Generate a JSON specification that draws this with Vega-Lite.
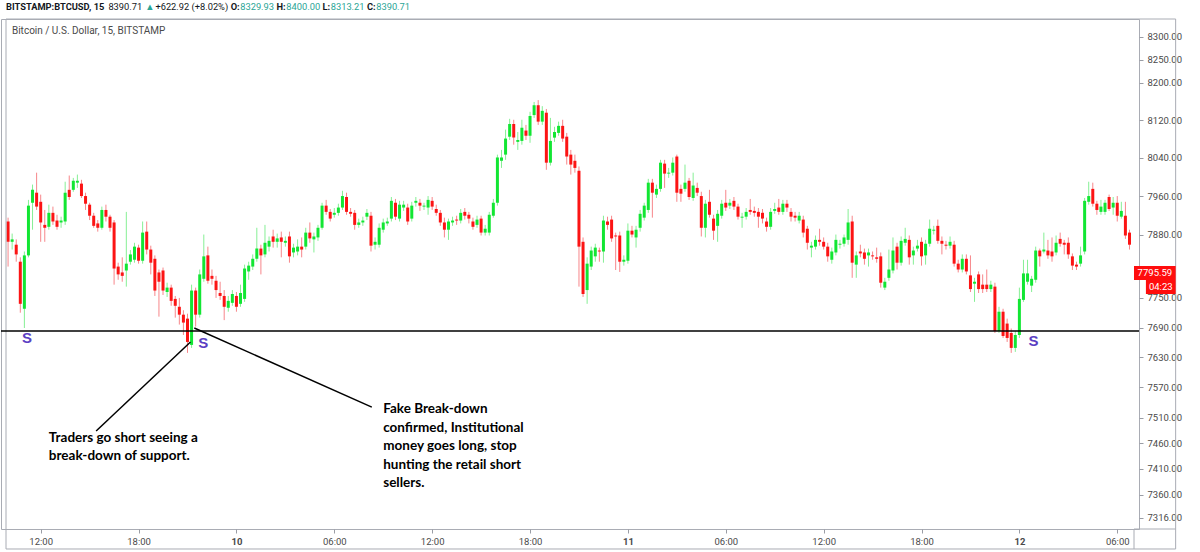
{
  "$schema": "https://vega.github.io/schema/vega-lite/v6.json",
  "width": 1138,
  "height": 510,
  "autosize": {"type": "none"},
  "padding": {"left": 1, "top": 19, "right": 61, "bottom": 23},
  "background": "#ffffff",
  "config": {"view": {"stroke": "#a9acb4", "strokeWidth": 1}, "font": "Roboto"},
  "datasets": {
    "one": [{}],
    "headBold": [
      {"t": 1560073944000, "txt": "BITSTAMP:BTCUSD, 15"},
      {"t": 1560123537572, "txt": "O:"},
      {"t": 1560133644423, "txt": "H:"},
      {"t": 1560143816902, "txt": "L:"},
      {"t": 1560153617485, "txt": "C:"}
    ],
    "headPlain": [
      {"t": 1560096542218, "txt": "8390.71"},
      {"t": 1560106911584, "txt": "+622.92 (+8.02%)"}
    ],
    "headTeal": [
      {"t": 1560104658325, "txt": "▲"},
      {"t": 1560125637697, "txt": "8329.93"},
      {"t": 1560135810176, "txt": "8400.00"},
      {"t": 1560145610759, "txt": "8313.21"},
      {"t": 1560155651981, "txt": "8390.71"}
    ],
    "candles": [
{"t":"2019-06-09T10:00Z","o":7907,"h":7915,"l":7814,"c":7865},
{"t":"2019-06-09T10:15Z","o":7865,"h":7882,"l":7849,"c":7870},
{"t":"2019-06-09T10:30Z","o":7859,"h":7870,"l":7824,"c":7839},
{"t":"2019-06-09T10:45Z","o":7824,"h":7833,"l":7720,"c":7738},
{"t":"2019-06-09T11:00Z","o":7728,"h":7845,"l":7689,"c":7837},
{"t":"2019-06-09T11:15Z","o":7837,"h":7952,"l":7833,"c":7940},
{"t":"2019-06-09T11:30Z","o":7946,"h":7984,"l":7890,"c":7973},
{"t":"2019-06-09T11:45Z","o":7967,"h":8009,"l":7931,"c":7938},
{"t":"2019-06-09T12:00Z","o":7948,"h":7963,"l":7865,"c":7905},
{"t":"2019-06-09T12:15Z","o":7900,"h":7931,"l":7865,"c":7894},
{"t":"2019-06-09T12:30Z","o":7896,"h":7942,"l":7890,"c":7925},
{"t":"2019-06-09T12:45Z","o":7925,"h":7938,"l":7900,"c":7907},
{"t":"2019-06-09T13:00Z","o":7909,"h":7921,"l":7890,"c":7896},
{"t":"2019-06-09T13:15Z","o":7905,"h":7917,"l":7894,"c":7909},
{"t":"2019-06-09T13:30Z","o":7907,"h":7990,"l":7900,"c":7967},
{"t":"2019-06-09T13:45Z","o":7973,"h":8003,"l":7952,"c":7958},
{"t":"2019-06-09T14:00Z","o":7973,"h":7998,"l":7969,"c":7992},
{"t":"2019-06-09T14:15Z","o":7988,"h":8005,"l":7977,"c":7992},
{"t":"2019-06-09T14:30Z","o":7986,"h":7994,"l":7956,"c":7960},
{"t":"2019-06-09T14:45Z","o":7960,"h":7967,"l":7931,"c":7944},
{"t":"2019-06-09T15:00Z","o":7942,"h":7946,"l":7910,"c":7919},
{"t":"2019-06-09T15:15Z","o":7919,"h":7925,"l":7894,"c":7898},
{"t":"2019-06-09T15:30Z","o":7903,"h":7910,"l":7886,"c":7894},
{"t":"2019-06-09T15:45Z","o":7894,"h":7938,"l":7890,"c":7931},
{"t":"2019-06-09T16:00Z","o":7931,"h":7942,"l":7907,"c":7917},
{"t":"2019-06-09T16:15Z","o":7917,"h":7921,"l":7886,"c":7894},
{"t":"2019-06-09T16:30Z","o":7905,"h":7910,"l":7777,"c":7810},
{"t":"2019-06-09T16:45Z","o":7814,"h":7822,"l":7787,"c":7798},
{"t":"2019-06-09T17:00Z","o":7802,"h":7833,"l":7783,"c":7795},
{"t":"2019-06-09T17:15Z","o":7806,"h":7927,"l":7773,"c":7820},
{"t":"2019-06-09T17:30Z","o":7824,"h":7848,"l":7818,"c":7839},
{"t":"2019-06-09T17:45Z","o":7828,"h":7863,"l":7822,"c":7855},
{"t":"2019-06-09T18:00Z","o":7853,"h":7859,"l":7820,"c":7826},
{"t":"2019-06-09T18:15Z","o":7826,"h":7907,"l":7820,"c":7884},
{"t":"2019-06-09T18:30Z","o":7886,"h":7907,"l":7839,"c":7849},
{"t":"2019-06-09T18:45Z","o":7849,"h":7857,"l":7798,"c":7822},
{"t":"2019-06-09T19:00Z","o":7830,"h":7837,"l":7754,"c":7765},
{"t":"2019-06-09T19:15Z","o":7802,"h":7808,"l":7712,"c":7783},
{"t":"2019-06-09T19:30Z","o":7806,"h":7812,"l":7756,"c":7765},
{"t":"2019-06-09T19:45Z","o":7762,"h":7781,"l":7752,"c":7771},
{"t":"2019-06-09T20:00Z","o":7771,"h":7777,"l":7734,"c":7744},
{"t":"2019-06-09T20:15Z","o":7748,"h":7754,"l":7710,"c":7734},
{"t":"2019-06-09T20:30Z","o":7732,"h":7750,"l":7696,"c":7716},
{"t":"2019-06-09T20:45Z","o":7716,"h":7725,"l":7675,"c":7700},
{"t":"2019-06-09T21:00Z","o":7708,"h":7718,"l":7639,"c":7661},
{"t":"2019-06-09T21:15Z","o":7655,"h":7777,"l":7649,"c":7765},
{"t":"2019-06-09T21:30Z","o":7765,"h":7771,"l":7692,"c":7716},
{"t":"2019-06-09T21:45Z","o":7716,"h":7808,"l":7710,"c":7798},
{"t":"2019-06-09T22:00Z","o":7789,"h":7880,"l":7783,"c":7835},
{"t":"2019-06-09T22:15Z","o":7837,"h":7855,"l":7779,"c":7785},
{"t":"2019-06-09T22:30Z","o":7795,"h":7808,"l":7777,"c":7789},
{"t":"2019-06-09T22:45Z","o":7785,"h":7795,"l":7750,"c":7766},
{"t":"2019-06-09T23:00Z","o":7760,"h":7783,"l":7746,"c":7754},
{"t":"2019-06-09T23:15Z","o":7754,"h":7766,"l":7705,"c":7732},
{"t":"2019-06-09T23:30Z","o":7730,"h":7754,"l":7722,"c":7744},
{"t":"2019-06-09T23:45Z","o":7740,"h":7766,"l":7734,"c":7758},
{"t":"2019-06-10T00:00Z","o":7754,"h":7762,"l":7722,"c":7732},
{"t":"2019-06-10T00:15Z","o":7738,"h":7777,"l":7732,"c":7760},
{"t":"2019-06-10T00:30Z","o":7748,"h":7818,"l":7742,"c":7810},
{"t":"2019-06-10T00:45Z","o":7804,"h":7824,"l":7787,"c":7816},
{"t":"2019-06-10T01:00Z","o":7814,"h":7839,"l":7807,"c":7830},
{"t":"2019-06-10T01:15Z","o":7830,"h":7894,"l":7824,"c":7851},
{"t":"2019-06-10T01:30Z","o":7851,"h":7859,"l":7798,"c":7837},
{"t":"2019-06-10T01:45Z","o":7839,"h":7900,"l":7833,"c":7863},
{"t":"2019-06-10T02:00Z","o":7855,"h":7876,"l":7845,"c":7867},
{"t":"2019-06-10T02:15Z","o":7876,"h":7890,"l":7853,"c":7865},
{"t":"2019-06-10T02:30Z","o":7865,"h":7882,"l":7853,"c":7872},
{"t":"2019-06-10T02:45Z","o":7874,"h":7886,"l":7833,"c":7865},
{"t":"2019-06-10T03:00Z","o":7863,"h":7876,"l":7855,"c":7867},
{"t":"2019-06-10T03:15Z","o":7876,"h":7886,"l":7822,"c":7835},
{"t":"2019-06-10T03:30Z","o":7843,"h":7861,"l":7833,"c":7853},
{"t":"2019-06-10T03:45Z","o":7845,"h":7870,"l":7837,"c":7855},
{"t":"2019-06-10T04:00Z","o":7855,"h":7874,"l":7833,"c":7849},
{"t":"2019-06-10T04:15Z","o":7855,"h":7894,"l":7849,"c":7884},
{"t":"2019-06-10T04:30Z","o":7884,"h":7905,"l":7863,"c":7872},
{"t":"2019-06-10T04:45Z","o":7870,"h":7884,"l":7843,"c":7876},
{"t":"2019-06-10T05:00Z","o":7874,"h":7900,"l":7867,"c":7894},
{"t":"2019-06-10T05:15Z","o":7894,"h":7946,"l":7890,"c":7940},
{"t":"2019-06-10T05:30Z","o":7940,"h":7952,"l":7921,"c":7927},
{"t":"2019-06-10T05:45Z","o":7927,"h":7933,"l":7907,"c":7913},
{"t":"2019-06-10T06:00Z","o":7921,"h":7935,"l":7915,"c":7925},
{"t":"2019-06-10T06:15Z","o":7925,"h":7944,"l":7919,"c":7936},
{"t":"2019-06-10T06:30Z","o":7936,"h":7971,"l":7931,"c":7960},
{"t":"2019-06-10T06:45Z","o":7958,"h":7967,"l":7921,"c":7927},
{"t":"2019-06-10T07:00Z","o":7927,"h":7935,"l":7917,"c":7923},
{"t":"2019-06-10T07:15Z","o":7925,"h":7931,"l":7890,"c":7900},
{"t":"2019-06-10T07:30Z","o":7900,"h":7913,"l":7894,"c":7905},
{"t":"2019-06-10T07:45Z","o":7905,"h":7917,"l":7898,"c":7909},
{"t":"2019-06-10T08:00Z","o":7917,"h":7933,"l":7910,"c":7925},
{"t":"2019-06-10T08:15Z","o":7919,"h":7927,"l":7845,"c":7857},
{"t":"2019-06-10T08:30Z","o":7859,"h":7874,"l":7849,"c":7865},
{"t":"2019-06-10T08:45Z","o":7859,"h":7903,"l":7853,"c":7894},
{"t":"2019-06-10T09:00Z","o":7890,"h":7913,"l":7884,"c":7905},
{"t":"2019-06-10T09:15Z","o":7903,"h":7915,"l":7898,"c":7907},
{"t":"2019-06-10T09:30Z","o":7913,"h":7958,"l":7907,"c":7950},
{"t":"2019-06-10T09:45Z","o":7946,"h":7954,"l":7910,"c":7917},
{"t":"2019-06-10T10:00Z","o":7913,"h":7950,"l":7907,"c":7942},
{"t":"2019-06-10T10:15Z","o":7936,"h":7950,"l":7929,"c":7942},
{"t":"2019-06-10T10:30Z","o":7936,"h":7944,"l":7900,"c":7907},
{"t":"2019-06-10T10:45Z","o":7913,"h":7948,"l":7907,"c":7940},
{"t":"2019-06-10T11:00Z","o":7946,"h":7958,"l":7938,"c":7950},
{"t":"2019-06-10T11:15Z","o":7946,"h":7954,"l":7929,"c":7940},
{"t":"2019-06-10T11:30Z","o":7938,"h":7946,"l":7931,"c":7940},
{"t":"2019-06-10T11:45Z","o":7936,"h":7960,"l":7921,"c":7952},
{"t":"2019-06-10T12:00Z","o":7950,"h":7958,"l":7931,"c":7938},
{"t":"2019-06-10T12:15Z","o":7933,"h":7942,"l":7919,"c":7925},
{"t":"2019-06-10T12:30Z","o":7925,"h":7931,"l":7898,"c":7905},
{"t":"2019-06-10T12:45Z","o":7905,"h":7915,"l":7874,"c":7890},
{"t":"2019-06-10T13:00Z","o":7890,"h":7913,"l":7869,"c":7907},
{"t":"2019-06-10T13:15Z","o":7905,"h":7917,"l":7898,"c":7909},
{"t":"2019-06-10T13:30Z","o":7911,"h":7919,"l":7900,"c":7909},
{"t":"2019-06-10T13:45Z","o":7909,"h":7933,"l":7903,"c":7925},
{"t":"2019-06-10T14:00Z","o":7927,"h":7935,"l":7911,"c":7919},
{"t":"2019-06-10T14:15Z","o":7921,"h":7927,"l":7903,"c":7913},
{"t":"2019-06-10T14:30Z","o":7907,"h":7915,"l":7890,"c":7896},
{"t":"2019-06-10T14:45Z","o":7900,"h":7919,"l":7894,"c":7911},
{"t":"2019-06-10T15:00Z","o":7913,"h":7919,"l":7878,"c":7884},
{"t":"2019-06-10T15:15Z","o":7884,"h":7900,"l":7878,"c":7892},
{"t":"2019-06-10T15:30Z","o":7884,"h":7927,"l":7878,"c":7921},
{"t":"2019-06-10T15:45Z","o":7919,"h":7954,"l":7915,"c":7946},
{"t":"2019-06-10T16:00Z","o":7946,"h":8047,"l":7940,"c":8041},
{"t":"2019-06-10T16:15Z","o":8034,"h":8057,"l":8019,"c":8041},
{"t":"2019-06-10T16:30Z","o":8047,"h":8100,"l":8036,"c":8081},
{"t":"2019-06-10T16:45Z","o":8085,"h":8123,"l":8078,"c":8112},
{"t":"2019-06-10T17:00Z","o":8112,"h":8121,"l":8068,"c":8083},
{"t":"2019-06-10T17:15Z","o":8074,"h":8095,"l":8057,"c":8078},
{"t":"2019-06-10T17:30Z","o":8076,"h":8121,"l":8068,"c":8104},
{"t":"2019-06-10T17:45Z","o":8098,"h":8110,"l":8078,"c":8087},
{"t":"2019-06-10T18:00Z","o":8087,"h":8138,"l":8072,"c":8129},
{"t":"2019-06-10T18:15Z","o":8131,"h":8159,"l":8125,"c":8152},
{"t":"2019-06-10T18:30Z","o":8152,"h":8163,"l":8110,"c":8117},
{"t":"2019-06-10T18:45Z","o":8117,"h":8150,"l":8110,"c":8140},
{"t":"2019-06-10T19:00Z","o":8136,"h":8144,"l":8015,"c":8030},
{"t":"2019-06-10T19:15Z","o":8030,"h":8125,"l":8024,"c":8076},
{"t":"2019-06-10T19:30Z","o":8083,"h":8106,"l":8074,"c":8095},
{"t":"2019-06-10T19:45Z","o":8093,"h":8117,"l":8087,"c":8108},
{"t":"2019-06-10T20:00Z","o":8108,"h":8121,"l":8074,"c":8081},
{"t":"2019-06-10T20:15Z","o":8085,"h":8093,"l":8026,"c":8043},
{"t":"2019-06-10T20:30Z","o":8047,"h":8057,"l":8005,"c":8026},
{"t":"2019-06-10T20:45Z","o":8034,"h":8047,"l":8009,"c":8019},
{"t":"2019-06-10T21:00Z","o":8013,"h":8022,"l":7773,"c":7855},
{"t":"2019-06-10T21:15Z","o":7865,"h":7874,"l":7752,"c":7758},
{"t":"2019-06-10T21:30Z","o":7766,"h":7833,"l":7738,"c":7820},
{"t":"2019-06-10T21:45Z","o":7814,"h":7855,"l":7807,"c":7847},
{"t":"2019-06-10T22:00Z","o":7835,"h":7861,"l":7824,"c":7853},
{"t":"2019-06-10T22:15Z","o":7847,"h":7853,"l":7824,"c":7845},
{"t":"2019-06-10T22:30Z","o":7845,"h":7919,"l":7822,"c":7909},
{"t":"2019-06-10T22:45Z","o":7907,"h":7917,"l":7890,"c":7900},
{"t":"2019-06-10T23:00Z","o":7911,"h":7919,"l":7865,"c":7872},
{"t":"2019-06-10T23:15Z","o":7878,"h":7884,"l":7807,"c":7876},
{"t":"2019-06-10T23:30Z","o":7878,"h":7886,"l":7803,"c":7824},
{"t":"2019-06-10T23:45Z","o":7824,"h":7837,"l":7816,"c":7828},
{"t":"2019-06-11T00:00Z","o":7826,"h":7903,"l":7820,"c":7888},
{"t":"2019-06-11T00:15Z","o":7888,"h":7898,"l":7874,"c":7880},
{"t":"2019-06-11T00:30Z","o":7874,"h":7898,"l":7853,"c":7890},
{"t":"2019-06-11T00:45Z","o":7894,"h":7931,"l":7886,"c":7923},
{"t":"2019-06-11T01:00Z","o":7915,"h":7946,"l":7909,"c":7940},
{"t":"2019-06-11T01:15Z","o":7931,"h":7996,"l":7925,"c":7988},
{"t":"2019-06-11T01:30Z","o":7988,"h":7996,"l":7915,"c":7967},
{"t":"2019-06-11T01:45Z","o":7963,"h":7984,"l":7956,"c":7975},
{"t":"2019-06-11T02:00Z","o":7975,"h":8036,"l":7969,"c":8030},
{"t":"2019-06-11T02:15Z","o":8028,"h":8036,"l":7977,"c":8007},
{"t":"2019-06-11T02:30Z","o":8007,"h":8019,"l":7998,"c":8009},
{"t":"2019-06-11T02:45Z","o":8009,"h":8041,"l":8003,"c":8030},
{"t":"2019-06-11T03:00Z","o":8043,"h":8047,"l":7948,"c":7967},
{"t":"2019-06-11T03:15Z","o":7975,"h":7984,"l":7948,"c":7965},
{"t":"2019-06-11T03:30Z","o":7975,"h":8026,"l":7969,"c":7988},
{"t":"2019-06-11T03:45Z","o":7992,"h":7998,"l":7952,"c":7958},
{"t":"2019-06-11T04:00Z","o":7956,"h":8009,"l":7950,"c":7982},
{"t":"2019-06-11T04:15Z","o":7977,"h":7988,"l":7960,"c":7967},
{"t":"2019-06-11T04:30Z","o":7960,"h":7969,"l":7876,"c":7894},
{"t":"2019-06-11T04:45Z","o":7894,"h":7952,"l":7874,"c":7944},
{"t":"2019-06-11T05:00Z","o":7948,"h":7973,"l":7915,"c":7921},
{"t":"2019-06-11T05:15Z","o":7913,"h":7921,"l":7869,"c":7888},
{"t":"2019-06-11T05:30Z","o":7898,"h":7931,"l":7865,"c":7923},
{"t":"2019-06-11T05:45Z","o":7919,"h":7952,"l":7913,"c":7944},
{"t":"2019-06-11T06:00Z","o":7946,"h":7973,"l":7929,"c":7936},
{"t":"2019-06-11T06:15Z","o":7940,"h":7954,"l":7933,"c":7946},
{"t":"2019-06-11T06:30Z","o":7950,"h":7958,"l":7931,"c":7938},
{"t":"2019-06-11T06:45Z","o":7938,"h":7944,"l":7911,"c":7917},
{"t":"2019-06-11T07:00Z","o":7915,"h":7925,"l":7894,"c":7917},
{"t":"2019-06-11T07:15Z","o":7917,"h":7935,"l":7911,"c":7927},
{"t":"2019-06-11T07:30Z","o":7931,"h":7954,"l":7921,"c":7927},
{"t":"2019-06-11T07:45Z","o":7929,"h":7938,"l":7917,"c":7925},
{"t":"2019-06-11T08:00Z","o":7927,"h":7935,"l":7894,"c":7917},
{"t":"2019-06-11T08:15Z","o":7925,"h":7933,"l":7903,"c":7913},
{"t":"2019-06-11T08:30Z","o":7907,"h":7915,"l":7886,"c":7896},
{"t":"2019-06-11T08:45Z","o":7896,"h":7935,"l":7890,"c":7927},
{"t":"2019-06-11T09:00Z","o":7929,"h":7946,"l":7923,"c":7933},
{"t":"2019-06-11T09:15Z","o":7936,"h":7954,"l":7921,"c":7927},
{"t":"2019-06-11T09:30Z","o":7927,"h":7952,"l":7921,"c":7944},
{"t":"2019-06-11T09:45Z","o":7944,"h":7952,"l":7927,"c":7936},
{"t":"2019-06-11T10:00Z","o":7927,"h":7935,"l":7907,"c":7917},
{"t":"2019-06-11T10:15Z","o":7919,"h":7927,"l":7907,"c":7915},
{"t":"2019-06-11T10:30Z","o":7909,"h":7927,"l":7903,"c":7919},
{"t":"2019-06-11T10:45Z","o":7911,"h":7919,"l":7874,"c":7884},
{"t":"2019-06-11T11:00Z","o":7892,"h":7898,"l":7849,"c":7863},
{"t":"2019-06-11T11:15Z","o":7853,"h":7865,"l":7833,"c":7857},
{"t":"2019-06-11T11:30Z","o":7855,"h":7878,"l":7849,"c":7869},
{"t":"2019-06-11T11:45Z","o":7869,"h":7892,"l":7857,"c":7865},
{"t":"2019-06-11T12:00Z","o":7865,"h":7874,"l":7849,"c":7855},
{"t":"2019-06-11T12:15Z","o":7855,"h":7863,"l":7824,"c":7835},
{"t":"2019-06-11T12:30Z","o":7828,"h":7853,"l":7820,"c":7845},
{"t":"2019-06-11T12:45Z","o":7843,"h":7880,"l":7837,"c":7869},
{"t":"2019-06-11T13:00Z","o":7859,"h":7869,"l":7851,"c":7861},
{"t":"2019-06-11T13:15Z","o":7861,"h":7880,"l":7855,"c":7874},
{"t":"2019-06-11T13:30Z","o":7869,"h":7933,"l":7859,"c":7905},
{"t":"2019-06-11T13:45Z","o":7907,"h":7919,"l":7791,"c":7822},
{"t":"2019-06-11T14:00Z","o":7818,"h":7845,"l":7791,"c":7837},
{"t":"2019-06-11T14:15Z","o":7845,"h":7859,"l":7833,"c":7841},
{"t":"2019-06-11T14:30Z","o":7843,"h":7851,"l":7818,"c":7830},
{"t":"2019-06-11T14:45Z","o":7837,"h":7851,"l":7814,"c":7843},
{"t":"2019-06-11T15:00Z","o":7837,"h":7845,"l":7828,"c":7835},
{"t":"2019-06-11T15:15Z","o":7833,"h":7853,"l":7822,"c":7830},
{"t":"2019-06-11T15:30Z","o":7835,"h":7843,"l":7771,"c":7781},
{"t":"2019-06-11T15:45Z","o":7771,"h":7791,"l":7766,"c":7783},
{"t":"2019-06-11T16:00Z","o":7791,"h":7849,"l":7785,"c":7808},
{"t":"2019-06-11T16:15Z","o":7806,"h":7874,"l":7800,"c":7847},
{"t":"2019-06-11T16:30Z","o":7855,"h":7863,"l":7808,"c":7822},
{"t":"2019-06-11T16:45Z","o":7822,"h":7876,"l":7816,"c":7867},
{"t":"2019-06-11T17:00Z","o":7863,"h":7894,"l":7857,"c":7871},
{"t":"2019-06-11T17:15Z","o":7869,"h":7878,"l":7818,"c":7833},
{"t":"2019-06-11T17:30Z","o":7837,"h":7855,"l":7818,"c":7847},
{"t":"2019-06-11T17:45Z","o":7851,"h":7869,"l":7845,"c":7857},
{"t":"2019-06-11T18:00Z","o":7865,"h":7874,"l":7816,"c":7835},
{"t":"2019-06-11T18:15Z","o":7837,"h":7869,"l":7818,"c":7861},
{"t":"2019-06-11T18:30Z","o":7861,"h":7911,"l":7855,"c":7892},
{"t":"2019-06-11T18:45Z","o":7888,"h":7898,"l":7880,"c":7890},
{"t":"2019-06-11T19:00Z","o":7898,"h":7911,"l":7861,"c":7867},
{"t":"2019-06-11T19:15Z","o":7867,"h":7876,"l":7839,"c":7861},
{"t":"2019-06-11T19:30Z","o":7859,"h":7867,"l":7849,"c":7857},
{"t":"2019-06-11T19:45Z","o":7857,"h":7876,"l":7851,"c":7865},
{"t":"2019-06-11T20:00Z","o":7859,"h":7867,"l":7814,"c":7820},
{"t":"2019-06-11T20:15Z","o":7820,"h":7828,"l":7802,"c":7808},
{"t":"2019-06-11T20:30Z","o":7808,"h":7839,"l":7802,"c":7830},
{"t":"2019-06-11T20:45Z","o":7830,"h":7839,"l":7798,"c":7804},
{"t":"2019-06-11T21:00Z","o":7796,"h":7837,"l":7762,"c":7768},
{"t":"2019-06-11T21:15Z","o":7779,"h":7791,"l":7742,"c":7783},
{"t":"2019-06-11T21:30Z","o":7798,"h":7804,"l":7760,"c":7768},
{"t":"2019-06-11T21:45Z","o":7777,"h":7798,"l":7760,"c":7768},
{"t":"2019-06-11T22:00Z","o":7777,"h":7808,"l":7762,"c":7768},
{"t":"2019-06-11T22:15Z","o":7768,"h":7785,"l":7762,"c":7777},
{"t":"2019-06-11T22:30Z","o":7773,"h":7781,"l":7679,"c":7683},
{"t":"2019-06-11T22:45Z","o":7683,"h":7732,"l":7679,"c":7722},
{"t":"2019-06-11T23:00Z","o":7722,"h":7728,"l":7669,"c":7673},
{"t":"2019-06-11T23:15Z","o":7698,"h":7708,"l":7661,"c":7669},
{"t":"2019-06-11T23:30Z","o":7679,"h":7688,"l":7639,"c":7649},
{"t":"2019-06-11T23:45Z","o":7649,"h":7683,"l":7641,"c":7675},
{"t":"2019-06-12T00:00Z","o":7675,"h":7771,"l":7669,"c":7748},
{"t":"2019-06-12T00:15Z","o":7746,"h":7828,"l":7742,"c":7800},
{"t":"2019-06-12T00:30Z","o":7783,"h":7828,"l":7777,"c":7800},
{"t":"2019-06-12T00:45Z","o":7775,"h":7795,"l":7762,"c":7789},
{"t":"2019-06-12T01:00Z","o":7787,"h":7855,"l":7781,"c":7847},
{"t":"2019-06-12T01:15Z","o":7847,"h":7851,"l":7814,"c":7835},
{"t":"2019-06-12T01:30Z","o":7845,"h":7884,"l":7841,"c":7849},
{"t":"2019-06-12T01:45Z","o":7847,"h":7869,"l":7830,"c":7837},
{"t":"2019-06-12T02:00Z","o":7845,"h":7874,"l":7824,"c":7835},
{"t":"2019-06-12T02:15Z","o":7843,"h":7878,"l":7837,"c":7863},
{"t":"2019-06-12T02:30Z","o":7871,"h":7884,"l":7855,"c":7861},
{"t":"2019-06-12T02:45Z","o":7863,"h":7869,"l":7839,"c":7859},
{"t":"2019-06-12T03:00Z","o":7863,"h":7874,"l":7830,"c":7839},
{"t":"2019-06-12T03:15Z","o":7835,"h":7841,"l":7807,"c":7816},
{"t":"2019-06-12T03:30Z","o":7818,"h":7824,"l":7807,"c":7814},
{"t":"2019-06-12T03:45Z","o":7820,"h":7855,"l":7814,"c":7837},
{"t":"2019-06-12T04:00Z","o":7845,"h":7956,"l":7839,"c":7950},
{"t":"2019-06-12T04:15Z","o":7948,"h":7990,"l":7942,"c":7960},
{"t":"2019-06-12T04:30Z","o":7975,"h":7988,"l":7938,"c":7944},
{"t":"2019-06-12T04:45Z","o":7944,"h":7950,"l":7921,"c":7931},
{"t":"2019-06-12T05:00Z","o":7927,"h":7952,"l":7921,"c":7938},
{"t":"2019-06-12T05:15Z","o":7927,"h":7952,"l":7921,"c":7946},
{"t":"2019-06-12T05:30Z","o":7958,"h":7963,"l":7929,"c":7933},
{"t":"2019-06-12T05:45Z","o":7936,"h":7958,"l":7921,"c":7946},
{"t":"2019-06-12T06:00Z","o":7946,"h":7960,"l":7907,"c":7919},
{"t":"2019-06-12T06:15Z","o":7917,"h":7948,"l":7913,"c":7929},
{"t":"2019-06-12T06:30Z","o":7919,"h":7948,"l":7871,"c":7878},
{"t":"2019-06-12T06:45Z","o":7884,"h":7890,"l":7849,"c":7859}
    ]
  },
  "layer": [
    {
      "data": {"name": "candles"},
      "mark": {"type": "rule", "strokeWidth": 1},
      "encoding": {
        "x": {
          "field": "t", "type": "temporal",
          "scale": {"type": "utc", "domain": [1560073944000, 1560322896000], "nice": false},
          "axis": {
            "title": null, "orient": "bottom", "domain": false, "grid": false,
            "values": [1560081600000, 1560103200000, 1560124800000, 1560146400000, 1560168000000, 1560189600000, 1560211200000, 1560232800000, 1560254400000, 1560276000000, 1560297600000, 1560319200000],
            "labelExpr": "utchours(datum.value) == 0 ? utcFormat(datum.value, '%d') : utcFormat(datum.value, '%H:%M')",
            "labelFontWeight": {"condition": {"test": "utchours(datum.value) == 0", "value": "bold"}, "value": "normal"},
            "labelFont": "Roboto", "labelFontSize": 9.5, "labelColor": "#4a4a4a",
            "tickSize": 4, "tickColor": "#9a9da5", "labelPadding": 3, "labelFlush": false, "labelOverlap": false
          }
        },
        "y": {
          "field": "l", "type": "quantitative",
          "scale": {"type": "log", "domain": [7293.96, 8338.6], "nice": false, "zero": false},
          "axis": {
            "title": null, "orient": "right", "domain": false, "grid": false,
            "values": [7316, 7360, 7410, 7460, 7510, 7570, 7630, 7690, 7750, 7880, 7960, 8040, 8120, 8200, 8250, 8300],
            "format": ".2f", "labelFont": "Roboto", "labelFontSize": 9.5, "labelColor": "#4a4a4a",
            "tickSize": 4, "tickColor": "#9a9da5", "labelPadding": 4
          }
        },
        "y2": {"field": "h"},
        "color": {"condition": {"test": "datum.c >= datum.o", "value": "#86ef95"}, "value": "#f7868a"}
      }
    },
    {
      "data": {"name": "candles"},
      "mark": {"type": "bar", "size": 3},
      "encoding": {
        "x": {"field": "t", "type": "temporal"},
        "y": {"field": "o", "type": "quantitative"},
        "y2": {"field": "c"},
        "color": {"condition": {"test": "datum.c >= datum.o", "value": "#12e633"}, "value": "#fc1414"}
      }
    },
    {
      "data": {"name": "headBold"},
      "mark": {"type": "text", "align": "left", "baseline": "middle", "font": "Roboto", "fontWeight": "bold", "fontSize": 9.3, "color": "#131722"},
      "encoding": {
        "x": {"field": "t", "type": "temporal"},
        "y": {"datum": 8365, "type": "quantitative"},
        "text": {"field": "txt"}
      }
    },
    {
      "data": {"name": "headPlain"},
      "mark": {"type": "text", "align": "left", "baseline": "middle", "font": "Roboto", "fontSize": 9.3, "color": "#131722"},
      "encoding": {
        "x": {"field": "t", "type": "temporal"},
        "y": {"datum": 8365, "type": "quantitative"},
        "text": {"field": "txt"}
      }
    },
    {
      "data": {"name": "headTeal"},
      "mark": {"type": "text", "align": "left", "baseline": "middle", "font": "Roboto", "fontSize": 9.3, "color": "#2aa596"},
      "encoding": {
        "x": {"field": "t", "type": "temporal"},
        "y": {"datum": 8365, "type": "quantitative"},
        "text": {"field": "txt"}
      }
    },
    {
      "data": {"name": "one"},
      "mark": {"type": "rect", "fill": "transparent", "stroke": "#a9acb4", "strokeWidth": 1},
      "encoding": {
        "x": {"datum": 1560073944000, "type": "temporal"},
        "x2": {"datum": 1560332088000},
        "y": {"datum": 7255.8, "type": "quantitative"},
        "y2": {"datum": 8338.6}
      }
    },
    {
      "data": {"name": "one"},
      "mark": {"type": "rule", "stroke": "#a9acb4", "strokeWidth": 1},
      "encoding": {
        "x": {"datum": 1560322896000, "type": "temporal"},
        "y": {"datum": 7293.96, "type": "quantitative"},
        "y2": {"datum": 7255.8}
      }
    },
    {
      "data": {"name": "one"},
      "mark": {"type": "rule", "stroke": "#a9acb4", "strokeWidth": 1},
      "encoding": {
        "x": {"datum": 1560322896000, "type": "temporal"},
        "x2": {"datum": 1560332088000},
        "y": {"datum": 7293.96, "type": "quantitative"}
      }
    },
    {
      "data": {"name": "one"},
      "mark": {"type": "rule", "stroke": "#000000", "strokeWidth": 1.5},
      "encoding": {"y": {"datum": 7683, "type": "quantitative"}}
    },
    {
      "data": {"name": "one"},
      "mark": {"type": "rule", "stroke": "#000000", "strokeWidth": 1.5},
      "encoding": {
        "x": {"datum": 1560093840000, "type": "temporal"},
        "x2": {"datum": 1560114660000},
        "y": {"datum": 7484, "type": "quantitative"},
        "y2": {"datum": 7661}
      }
    },
    {
      "data": {"name": "one"},
      "mark": {"type": "rule", "stroke": "#000000", "strokeWidth": 1.5},
      "encoding": {
        "x": {"datum": 1560115500000, "type": "temporal"},
        "x2": {"datum": 1560154680000},
        "y": {"datum": 7689, "type": "quantitative"},
        "y2": {"datum": 7531}
      }
    },
    {
      "data": {"name": "one"},
      "mark": {"type": "text", "text": "Bitcoin / U.S. Dollar, 15, BITSTAMP", "align": "left", "baseline": "middle", "font": "Roboto", "fontSize": 10, "color": "#4a4a4a"},
      "encoding": {
        "x": {"datum": 1560075260000, "type": "temporal"},
        "y": {"datum": 8312, "type": "quantitative"}
      }
    },
    {
      "data": {"name": "one"},
      "mark": {"type": "text", "text": "Traders go short seeing a\nbreak-down of support.", "lineBreak": "\n", "lineHeight": 18.5, "align": "left", "baseline": "top", "font": "Lato", "fontWeight": "bold", "fontSize": 13.5, "color": "#000000"},
      "encoding": {
        "x": {"datum": 1560083400000, "type": "temporal"},
        "y": {"datum": 7484, "type": "quantitative"}
      }
    },
    {
      "data": {"name": "one"},
      "mark": {"type": "text", "text": "Fake Break-down\nconfirmed, Institutional\nmoney goes long, stop\nhunting the retail short\nsellers.", "lineBreak": "\n", "lineHeight": 18.5, "align": "left", "baseline": "top", "font": "Lato", "fontWeight": "bold", "fontSize": 13.5, "color": "#000000"},
      "encoding": {
        "x": {"datum": 1560157200000, "type": "temporal"},
        "y": {"datum": 7541, "type": "quantitative"}
      }
    },
    {
      "data": {"name": "one"},
      "mark": {"type": "text", "text": "S", "align": "center", "baseline": "middle", "font": "Liberation Sans", "fontWeight": "bold", "fontSize": 15, "color": "#5b3fc3"},
      "encoding": {
        "x": {"datum": 1560078600000, "type": "temporal"},
        "y": {"datum": 7669, "type": "quantitative"}
      }
    },
    {
      "data": {"name": "one"},
      "mark": {"type": "text", "text": "S", "align": "center", "baseline": "middle", "font": "Liberation Sans", "fontWeight": "bold", "fontSize": 15, "color": "#5b3fc3"},
      "encoding": {
        "x": {"datum": 1560117480000, "type": "temporal"},
        "y": {"datum": 7659, "type": "quantitative"}
      }
    },
    {
      "data": {"name": "one"},
      "mark": {"type": "text", "text": "S", "align": "center", "baseline": "middle", "font": "Liberation Sans", "fontWeight": "bold", "fontSize": 15, "color": "#5b3fc3"},
      "encoding": {
        "x": {"datum": 1560300720000, "type": "temporal"},
        "y": {"datum": 7663, "type": "quantitative"}
      }
    },
    {
      "data": {"name": "one"},
      "mark": {"type": "rect", "fill": "#ff0d0d"},
      "encoding": {
        "x": {"datum": 1560322896000, "type": "temporal"},
        "x2": {"datum": 1560332088000},
        "y": {"datum": 7815.2, "type": "quantitative"},
        "y2": {"datum": 7786.6}
      }
    },
    {
      "data": {"name": "one"},
      "mark": {"type": "rect", "fill": "#ff0d0d"},
      "encoding": {
        "x": {"datum": 1560325524000, "type": "temporal"},
        "x2": {"datum": 1560332088000},
        "y": {"datum": 7786.6, "type": "quantitative"},
        "y2": {"datum": 7758.0}
      }
    },
    {
      "data": {"name": "one"},
      "mark": {"type": "text", "text": "7795.59", "align": "center", "baseline": "middle", "font": "Roboto", "fontSize": 9.5, "color": "#ffffff"},
      "encoding": {
        "x": {"datum": 1560327504000, "type": "temporal"},
        "y": {"datum": 7800.9, "type": "quantitative"}
      }
    },
    {
      "data": {"name": "one"},
      "mark": {"type": "text", "text": "04:23", "align": "center", "baseline": "middle", "font": "Roboto", "fontSize": 9.5, "color": "#ffffff"},
      "encoding": {
        "x": {"datum": 1560328800000, "type": "temporal"},
        "y": {"datum": 7772.2, "type": "quantitative"}
      }
    }
  ]
}
